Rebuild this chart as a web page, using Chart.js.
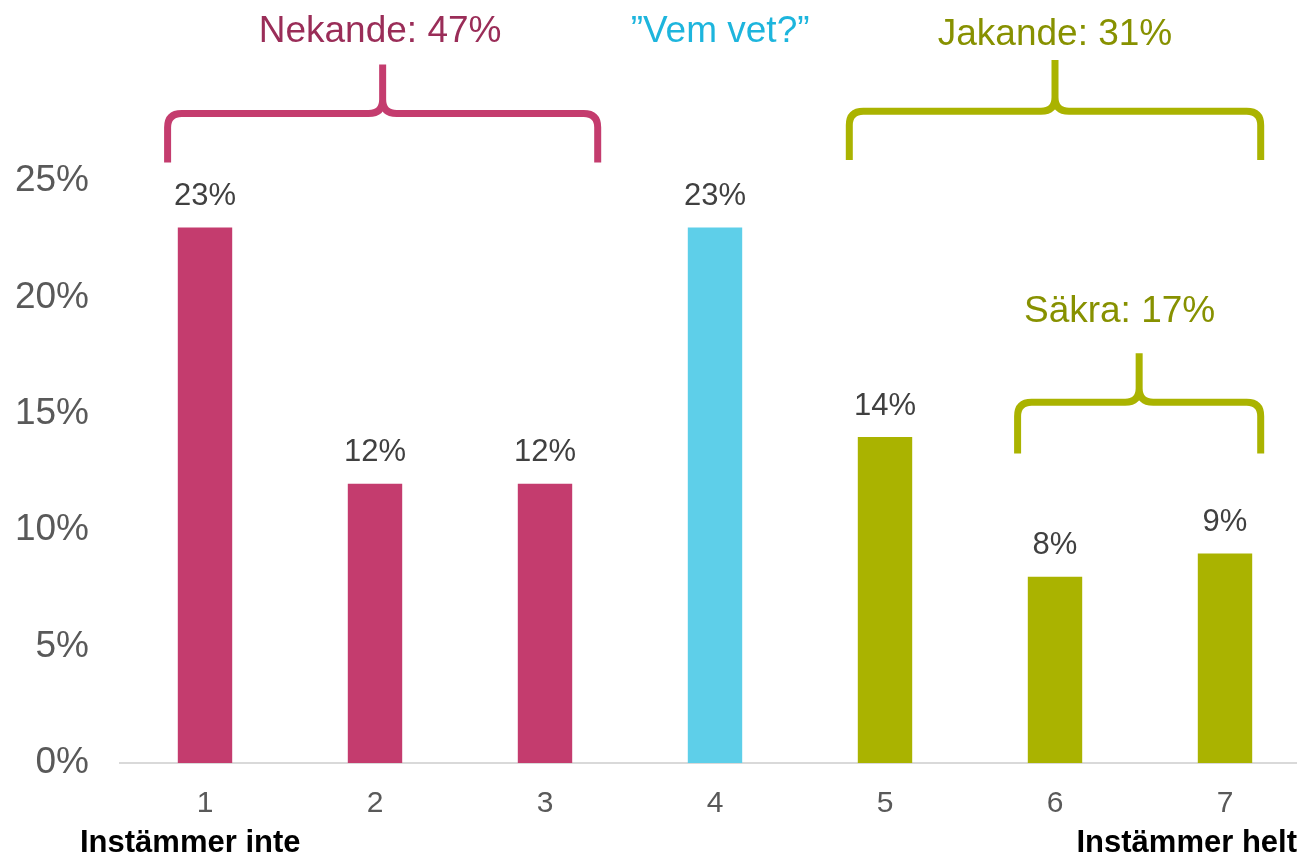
<!DOCTYPE html>
<html>
<head>
<meta charset="utf-8">
<script src="https://cdn.jsdelivr.net/npm/chart.js@4"></script>
<style>
  body { margin: 0; overflow: hidden; background: #fff; }
  #wrap { width: 1297px; height: 857px; overflow: hidden; }
</style>
</head>
<body>
<div id="wrap"><canvas id="bars" width="1310" height="857"></canvas></div>
<script>
const categories = ['1', '2', '3', '4', '5', '6', '7'];
const shares = [23, 12, 12, 23, 14, 8, 9];
const barColors = ['#c43c6e', '#c43c6e', '#c43c6e', '#5ecfe9', '#aab300', '#aab300', '#aab300'];
const yTicks = [0, 5, 10, 15, 20, 25];

// group brackets: from/to in category index, heights in % units
const brackets = [
    { from: -0.22, to: 2.31, bottom: 25.8, mid: 27.9, top: 30.0, color: '#c43c6e' },
    { from: 3.79, to: 6.21, bottom: 25.9, mid: 28.0, top: 30.2, color: '#aab300' },
    { from: 4.78, to: 6.21, bottom: 13.3, mid: 15.5, top: 17.6, color: '#aab300' }
];
const groupTitles = [
    { text: 'Nekande: 47%', at: 1.03, y: 31.4, color: '#9a2d58' },
    { text: '\u201dVem vet?\u201d', at: 3.03, y: 31.4, color: '#1db5dd' },
    { text: 'Jakande: 31%', at: 5.0, y: 31.3, color: '#879100' },
    { text: 'S\u00e4kra: 17%', at: 5.38, y: 19.4, color: '#879100' }
];

function drawBrace(c, x1, x2, yb, ym, yt) {
    const xm = (x1 + x2) / 2, r = 14;
    c.beginPath();
    c.moveTo(x1, yb);
    c.lineTo(x1, ym + r);
    c.quadraticCurveTo(x1, ym, x1 + r, ym);
    c.lineTo(xm - r, ym);
    c.quadraticCurveTo(xm, ym, xm, ym - r);
    c.lineTo(xm, yt);
    c.moveTo(xm, ym - r);
    c.quadraticCurveTo(xm, ym, xm + r, ym);
    c.lineTo(x2 - r, ym);
    c.quadraticCurveTo(x2, ym, x2, ym + r);
    c.lineTo(x2, yb);
    c.stroke();
}

const extras = {
    id: 'extras',
    afterDatasetsDraw(chart) {
        const c = chart.ctx;
        const xs = chart.scales.x, ys = chart.scales.y;
        c.save();
        // value labels
        c.font = '31px "Liberation Sans", Arial, sans-serif';
        c.fillStyle = '#404040';
        c.textAlign = 'center';
        c.textBaseline = 'middle';
        chart.getDatasetMeta(0).data.forEach((bar, i) => {
            c.fillText(shares[i] + '%', bar.x, bar.y - 31);
        });
        // brackets
        const step = xs.getPixelForValue(1) - xs.getPixelForValue(0);
        const px = v => xs.getPixelForValue(0) + v * step;
        c.lineWidth = 7;
        c.lineCap = 'butt';
        c.lineJoin = 'round';
        brackets.forEach(b => {
            c.strokeStyle = b.color;
            drawBrace(c, px(b.from), px(b.to), ys.getPixelForValue(b.bottom), ys.getPixelForValue(b.mid), ys.getPixelForValue(b.top));
        });
        // group titles
        c.font = '37px "Liberation Sans", Arial, sans-serif';
        groupTitles.forEach(t => {
            c.fillStyle = t.color;
            c.fillText(t.text, px(t.at), ys.getPixelForValue(t.y));
        });
        // scale end notes
        c.font = 'bold 31px "Liberation Sans", Arial, sans-serif';
        c.fillStyle = '#000';
        c.textAlign = 'left';
        c.fillText('Inst\u00e4mmer inte', 80, 843);
        c.textAlign = 'right';
        c.fillText('Inst\u00e4mmer helt', 1297, 843);
        c.restore();
    }
};

const ctx = document.getElementById('bars').getContext('2d');
const myChart = new Chart(ctx, {
    type: 'bar',
    data: {
        labels: categories,
        datasets: [{
            data: shares,
            backgroundColor: barColors,
            barPercentage: 0.32,
            categoryPercentage: 1
        }]
    },
    options: {
        responsive: false,
        animation: false,
        layout: { padding: { top: 181, left: 0, right: 0, bottom: 0 } },
        scales: {
            x: {
                grid: { display: false },
                border: { display: true, color: '#d9d9d9', width: 2 },
                ticks: {
                    color: '#595959',
                    padding: 15,
                    font: { family: '"Liberation Sans", Arial, sans-serif', size: 30 }
                },
                afterFit: s => { s.height = 94; }
            },
            y: {
                min: 0,
                max: 25,
                afterBuildTicks: s => { s.ticks = yTicks.map(v => ({ value: v })); },
                grid: { display: false },
                border: { display: false },
                ticks: {
                    color: '#595959',
                    padding: 23,
                    callback: v => v + '%',
                    font: { family: '"Liberation Sans", Arial, sans-serif', size: 37 }
                },
                afterFit: s => { s.width = 120; }
            }
        },
        plugins: {
            legend: { display: false },
            tooltip: { enabled: false }
        }
    },
    plugins: [extras]
});
</script>
</body>
</html>
